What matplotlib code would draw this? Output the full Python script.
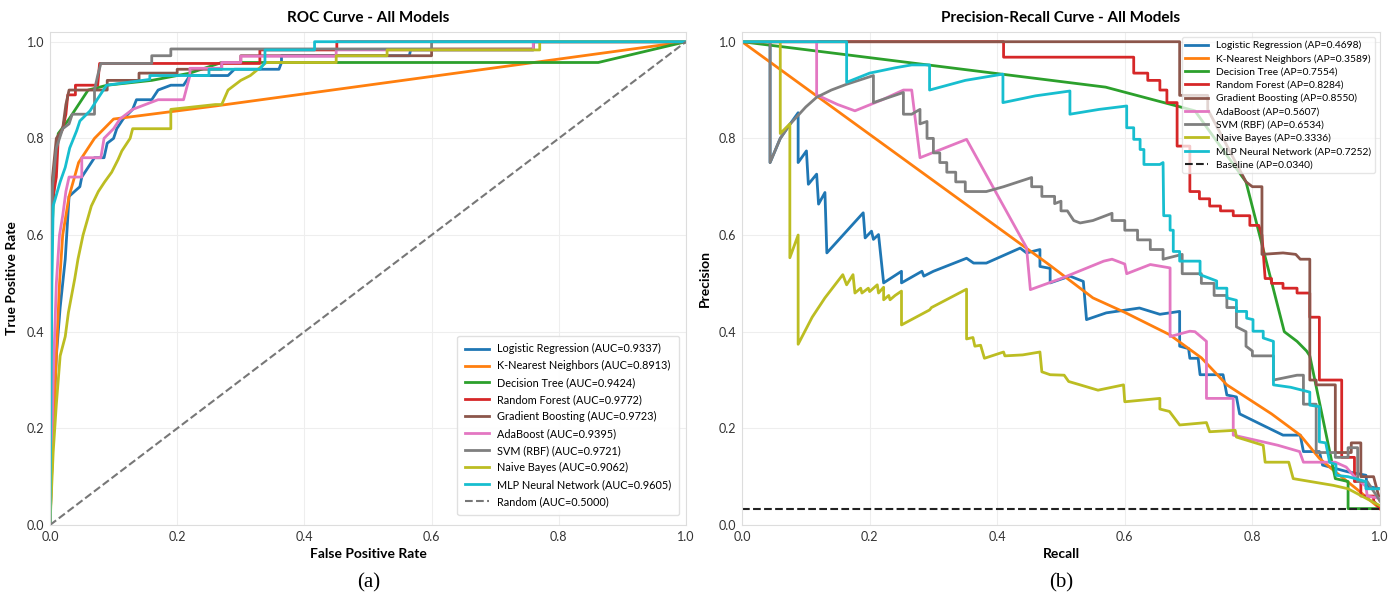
import matplotlib
matplotlib.use("Agg")
import matplotlib.pyplot as plt

plt.rcParams['font.family'] = ['Lato', 'DejaVu Sans']

# ---- ROC curves (fpr, tpr) ----
models = ["Logistic Regression", "K-Nearest Neighbors", "Decision Tree", "Random Forest",
          "Gradient Boosting", "AdaBoost", "SVM (RBF)", "Naive Bayes", "MLP Neural Network"]
auc_vals = [0.9337, 0.8913, 0.9424, 0.9772, 0.9723, 0.9395, 0.9721, 0.9062, 0.9605]
ap_vals = [0.4698, 0.3589, 0.7554, 0.8284, 0.8550, 0.5607, 0.6534, 0.3336, 0.7252]
baseline_ap = 0.0340

lr_roc = [(0, 0), (0.005, 0.2), (0.01, 0.35), (0.016, 0.45), (0.024, 0.55), (0.03, 0.68), (0.047, 0.7),
          (0.05, 0.72), (0.06, 0.74), (0.07, 0.76), (0.085, 0.76), (0.09, 0.79), (0.1, 0.8), (0.105, 0.82),
          (0.115, 0.84), (0.13, 0.86), (0.136, 0.88), (0.16, 0.88), (0.17, 0.9), (0.19, 0.91), (0.21, 0.91),
          (0.22, 0.93), (0.28, 0.93), (0.29, 0.943), (0.36, 0.943), (0.364, 0.957), (0.364, 0.971),
          (0.565, 0.971), (0.567, 0.983), (0.76, 0.983), (0.76, 1.0), (1, 1)]
knn_roc = [(0, 0), (0.005, 0.2), (0.01, 0.35), (0.015, 0.5), (0.02, 0.6), (0.03, 0.68), (0.045, 0.75),
           (0.07, 0.8), (0.1, 0.84), (0.26, 0.867), (1, 1)]
dt_roc = [(0, 0), (0.003, 0.6), (0.008, 0.75), (0.013, 0.81), (0.03, 0.84), (0.05, 0.88), (0.06, 0.9),
          (0.09, 0.91), (0.16, 0.92), (0.22, 0.935), (0.27, 0.957), (0.862, 0.957), (1, 1)]
rf_roc = [(0, 0), (0, 0.55), (0.005, 0.68), (0.01, 0.72), (0.013, 0.8), (0.02, 0.82), (0.025, 0.85),
          (0.028, 0.89), (0.04, 0.89), (0.04, 0.91), (0.075, 0.91), (0.078, 0.955), (0.33, 0.955),
          (0.33, 0.983), (0.451, 0.983), (0.451, 1.0), (1, 1)]
gb_roc = [(0, 0), (0, 0.6), (0.004, 0.72), (0.01, 0.8), (0.02, 0.82), (0.025, 0.87), (0.03, 0.9),
          (0.09, 0.9), (0.09, 0.92), (0.14, 0.92), (0.14, 0.935), (0.2, 0.935), (0.2, 0.943), (0.27, 0.943),
          (0.27, 0.957), (0.3, 0.957), (0.3, 0.971), (0.6, 0.971), (0.6, 0.985), (0.76, 0.985), (0.76, 1.0),
          (1, 1)]
ada_roc = [(0, 0), (0.005, 0.3), (0.01, 0.5), (0.015, 0.6), (0.02, 0.64), (0.025, 0.69), (0.03, 0.72),
           (0.05, 0.72), (0.05, 0.76), (0.08, 0.76), (0.085, 0.8), (0.1, 0.82), (0.11, 0.84), (0.13, 0.86),
           (0.17, 0.88), (0.21, 0.88), (0.22, 0.93), (0.22, 0.945), (0.27, 0.945), (0.27, 0.957), (0.3, 0.957),
           (0.3, 0.97), (0.45, 0.97), (0.45, 0.983), (0.76, 0.983), (0.76, 1), (1, 1)]
svm_roc = [(0, 0), (0, 0.45), (0.004, 0.7), (0.01, 0.78), (0.015, 0.8), (0.02, 0.82), (0.03, 0.83),
           (0.035, 0.85), (0.07, 0.85), (0.07, 0.9), (0.075, 0.93), (0.08, 0.955), (0.16, 0.955),
           (0.16, 0.971), (0.19, 0.971), (0.19, 0.985), (0.6, 0.985), (0.6, 1), (1, 1)]
nb_roc = [(0, 0), (0.005, 0.15), (0.01, 0.25), (0.016, 0.35), (0.024, 0.39), (0.029, 0.44), (0.039, 0.51),
          (0.044, 0.55), (0.052, 0.6), (0.065, 0.66), (0.076, 0.69), (0.086, 0.71), (0.097, 0.73),
          (0.107, 0.756), (0.113, 0.774), (0.126, 0.8), (0.13, 0.82), (0.19, 0.82), (0.19, 0.86),
          (0.26, 0.87), (0.27, 0.87), (0.28, 0.9), (0.3, 0.92), (0.315, 0.93), (0.34, 0.957), (0.45, 0.957),
          (0.45, 0.971), (0.53, 0.971), (0.53, 0.983), (0.77, 0.983), (0.77, 1), (1, 1)]
mlp_roc = [(0, 0), (0.003, 0.5), (0.005, 0.66), (0.016, 0.71), (0.024, 0.74), (0.031, 0.78),
           (0.042, 0.816), (0.047, 0.836), (0.063, 0.857), (0.074, 0.88), (0.089, 0.91), (0.157, 0.922),
           (0.157, 0.93), (0.25, 0.93), (0.25, 0.943), (0.33, 0.943), (0.338, 0.957), (0.338, 0.983),
           (0.416, 0.983), (0.416, 1), (1, 1)]

# ---- Precision-Recall curves (recall, precision) ----
lr_pr = [(0, 1), (0.044, 1), (0.044, 0.75), (0.06, 0.8), (0.075, 0.829), (0.088, 0.853), (0.088, 0.75),
         (0.101, 0.774), (0.104, 0.705), (0.117, 0.726), (0.12, 0.664), (0.13, 0.688), (0.133, 0.563),
         (0.19, 0.646), (0.193, 0.594), (0.203, 0.608), (0.206, 0.591), (0.214, 0.601), (0.222, 0.501),
         (0.25, 0.525), (0.25, 0.501), (0.282, 0.525), (0.285, 0.515), (0.3, 0.525), (0.352, 0.552),
         (0.363, 0.542), (0.383, 0.542), (0.436, 0.573), (0.446, 0.563), (0.467, 0.57), (0.467, 0.535),
         (0.483, 0.531), (0.483, 0.501), (0.514, 0.515), (0.535, 0.504), (0.54, 0.425), (0.571, 0.439),
         (0.623, 0.449), (0.655, 0.436), (0.686, 0.442), (0.686, 0.37), (0.7, 0.365), (0.702, 0.345),
         (0.715, 0.345), (0.718, 0.311), (0.754, 0.311), (0.76, 0.269), (0.775, 0.265), (0.78, 0.23),
         (0.817, 0.206), (0.848, 0.186), (0.875, 0.186), (0.88, 0.152), (0.905, 0.152), (0.91, 0.124),
         (0.95, 0.11), (0.978, 0.103), (0.98, 0.08), (1.0, 0.075)]
knn_pr = [(0, 1), (0.48, 0.54), (0.55, 0.47), (0.6, 0.44), (0.67, 0.394), (0.72, 0.346), (0.76, 0.29),
          (0.83, 0.23), (0.875, 0.186), (0.905, 0.138), (0.93, 0.11), (0.963, 0.075), (1.0, 0.034)]
dt_pr = [(0, 1), (0.57, 0.906), (0.71, 0.857), (0.73, 0.82), (0.79, 0.71), (0.85, 0.40), (0.86, 0.39),
         (0.87, 0.38), (0.885, 0.36), (0.89, 0.35), (0.93, 0.096), (0.95, 0.09), (0.95, 0.034),
         (1.0, 0.034)]
rf_pr = [(0, 1), (0.41, 1), (0.41, 0.968), (0.614, 0.968), (0.614, 0.935), (0.636, 0.935), (0.636, 0.92),
         (0.655, 0.92), (0.655, 0.9), (0.666, 0.9), (0.666, 0.874), (0.682, 0.874), (0.682, 0.784),
         (0.702, 0.784), (0.702, 0.69), (0.717, 0.69), (0.717, 0.675), (0.733, 0.675), (0.733, 0.66),
         (0.75, 0.66), (0.75, 0.65), (0.77, 0.65), (0.77, 0.64), (0.796, 0.64), (0.796, 0.62), (0.81, 0.62),
         (0.815, 0.6), (0.82, 0.51), (0.83, 0.51), (0.83, 0.5), (0.848, 0.5), (0.848, 0.49), (0.87, 0.49),
         (0.87, 0.48), (0.89, 0.48), (0.89, 0.43), (0.905, 0.43), (0.905, 0.3), (0.94, 0.3), (0.94, 0.14),
         (0.96, 0.14), (0.96, 0.09), (0.97, 0.09), (0.97, 0.06), (0.99, 0.06), (0.99, 0.05), (1.0, 0.034)]
gb_pr = [(0, 1), (0.686, 1), (0.686, 0.889), (0.73, 0.889), (0.73, 0.86), (0.79, 0.71), (0.8, 0.70),
         (0.815, 0.70), (0.815, 0.56), (0.848, 0.563), (0.868, 0.56), (0.875, 0.55), (0.89, 0.55),
         (0.89, 0.30), (0.9, 0.30), (0.9, 0.29), (0.93, 0.29), (0.93, 0.15), (0.955, 0.15), (0.955, 0.17),
         (0.97, 0.17), (0.97, 0.1), (0.99, 0.1), (1.0, 0.05)]
ada_pr = [(0, 1), (0.117, 1), (0.117, 0.89), (0.15, 0.87), (0.177, 0.857), (0.22, 0.88), (0.253, 0.9),
          (0.266, 0.9), (0.279, 0.76), (0.352, 0.798), (0.446, 0.574), (0.452, 0.487), (0.5, 0.51),
          (0.567, 0.546), (0.58, 0.55), (0.6, 0.54), (0.603, 0.52), (0.64, 0.539), (0.671, 0.532),
          (0.671, 0.39), (0.702, 0.401), (0.71, 0.4), (0.728, 0.38), (0.728, 0.262), (0.77, 0.262),
          (0.77, 0.186), (0.817, 0.172), (0.84, 0.165), (0.874, 0.152), (0.88, 0.13), (0.93, 0.13),
          (0.947, 0.12), (0.96, 0.1), (0.978, 0.08), (0.98, 0.06), (1.0, 0.055)]
svm_pr = [(0, 1), (0.044, 1), (0.044, 0.75), (0.06, 0.8), (0.075, 0.829), (0.1, 0.865), (0.117, 0.885),
          (0.14, 0.9), (0.164, 0.912), (0.206, 0.93), (0.206, 0.874), (0.253, 0.895), (0.253, 0.85),
          (0.266, 0.85), (0.279, 0.86), (0.279, 0.83), (0.29, 0.835), (0.29, 0.8), (0.3, 0.8), (0.3, 0.77),
          (0.31, 0.77), (0.31, 0.75), (0.321, 0.75), (0.321, 0.73), (0.335, 0.73), (0.335, 0.71),
          (0.35, 0.71), (0.35, 0.69), (0.383, 0.69), (0.41, 0.70), (0.454, 0.719), (0.454, 0.70),
          (0.47, 0.70), (0.47, 0.68), (0.49, 0.68), (0.49, 0.665), (0.5, 0.67), (0.5, 0.65), (0.51, 0.65),
          (0.52, 0.63), (0.53, 0.625), (0.55, 0.63), (0.58, 0.645), (0.58, 0.63), (0.6, 0.63), (0.6, 0.61),
          (0.62, 0.61), (0.62, 0.59), (0.64, 0.59), (0.64, 0.57), (0.66, 0.57), (0.66, 0.55), (0.69, 0.56),
          (0.69, 0.52), (0.72, 0.52), (0.72, 0.5), (0.74, 0.5), (0.74, 0.475), (0.76, 0.475), (0.76, 0.45),
          (0.775, 0.45), (0.775, 0.41), (0.79, 0.4), (0.79, 0.37), (0.8, 0.36), (0.8, 0.35), (0.833, 0.35),
          (0.833, 0.3), (0.87, 0.31), (0.88, 0.31), (0.88, 0.25), (0.9, 0.25), (0.9, 0.15), (0.93, 0.15),
          (0.93, 0.14), (0.95, 0.14), (0.95, 0.16), (0.965, 0.16), (0.965, 0.09), (0.98, 0.09), (1.0, 0.05)]
nb_pr = [(0, 1), (0.06, 1), (0.06, 0.81), (0.075, 0.83), (0.075, 0.553), (0.088, 0.6), (0.088, 0.374),
         (0.11, 0.43), (0.13, 0.47), (0.158, 0.518), (0.164, 0.497), (0.174, 0.518), (0.177, 0.48),
         (0.186, 0.49), (0.188, 0.48), (0.198, 0.49), (0.2, 0.483), (0.212, 0.497), (0.214, 0.48),
         (0.222, 0.492), (0.222, 0.466), (0.23, 0.475), (0.232, 0.466), (0.24, 0.475), (0.25, 0.484),
         (0.25, 0.414), (0.294, 0.445), (0.297, 0.45), (0.352, 0.488), (0.352, 0.385), (0.362, 0.388),
         (0.365, 0.37), (0.374, 0.372), (0.38, 0.345), (0.41, 0.358), (0.412, 0.35), (0.44, 0.352),
         (0.467, 0.358), (0.47, 0.317), (0.483, 0.311), (0.505, 0.31), (0.512, 0.297), (0.53, 0.29),
         (0.558, 0.279), (0.598, 0.29), (0.6, 0.255), (0.655, 0.262), (0.655, 0.24), (0.67, 0.235),
         (0.686, 0.207), (0.728, 0.212), (0.733, 0.193), (0.773, 0.196), (0.775, 0.182), (0.817, 0.165),
         (0.82, 0.13), (0.857, 0.13), (0.864, 0.096), (0.927, 0.082), (0.95, 0.075), (1.0, 0.04)]
mlp_pr = [(0, 1), (0.164, 1), (0.164, 0.916), (0.2, 0.935), (0.24, 0.946), (0.266, 0.952), (0.294, 0.952),
          (0.294, 0.9), (0.35, 0.92), (0.409, 0.933), (0.409, 0.874), (0.46, 0.888), (0.514, 0.898),
          (0.514, 0.85), (0.56, 0.86), (0.603, 0.867), (0.603, 0.822), (0.614, 0.822), (0.614, 0.798),
          (0.624, 0.798), (0.624, 0.777), (0.63, 0.777), (0.63, 0.746), (0.655, 0.746), (0.66, 0.75),
          (0.661, 0.64), (0.671, 0.64), (0.671, 0.61), (0.676, 0.61), (0.676, 0.566), (0.686, 0.566),
          (0.686, 0.546), (0.718, 0.546), (0.718, 0.518), (0.744, 0.505), (0.744, 0.49), (0.76, 0.49),
          (0.76, 0.47), (0.775, 0.465), (0.775, 0.442), (0.791, 0.442), (0.791, 0.428), (0.801, 0.425),
          (0.801, 0.401), (0.817, 0.401), (0.817, 0.387), (0.833, 0.38), (0.833, 0.29), (0.86, 0.285),
          (0.89, 0.275), (0.89, 0.248), (0.905, 0.245), (0.905, 0.172), (0.915, 0.17), (0.921, 0.13),
          (0.931, 0.125), (0.931, 0.103), (0.95, 0.1), (0.978, 0.09), (0.978, 0.075), (1.0, 0.075)]

roc_curves = [lr_roc, knn_roc, dt_roc, rf_roc, gb_roc, ada_roc, svm_roc, nb_roc, mlp_roc]
pr_curves = [lr_pr, knn_pr, dt_pr, rf_pr, gb_pr, ada_pr, svm_pr, nb_pr, mlp_pr]
colors = ['#1f77b4', '#ff7f0e', '#2ca02c', '#d62728', '#8c564b', '#e377c2', '#7f7f7f', '#bcbd22', '#17becf']

fig = plt.figure(figsize=(14, 5.99), dpi=100)
ax1 = fig.add_axes([0.0357, 0.1235, 0.4543, 0.823])
ax2 = fig.add_axes([0.530, 0.1235, 0.4557, 0.823])


def style(ax):
    ax.set_xlim(0, 1)
    ax.set_ylim(0, 1.02)
    ax.set_xticks([0, 0.2, 0.4, 0.6, 0.8, 1.0])
    ax.set_yticks([0, 0.2, 0.4, 0.6, 0.8, 1.0])
    ax.grid(True, color='#eeeeee', linewidth=0.8)
    ax.set_axisbelow(True)
    for s in ax.spines.values():
        s.set_color('#dddddd')
        s.set_linewidth(0.8)
    ax.tick_params(length=0, labelsize=9, colors='#333333', pad=4)


# ROC
for name, auc, pts, c in zip(models, auc_vals, roc_curves, colors):
    xs, ys = zip(*pts)
    ax1.plot(xs, ys, color=c, lw=2, label=f"{name} (AUC={auc:.4f})")
ax1.plot([0, 1], [0, 1], color='#777777', lw=1.5, ls='--', label="Random (AUC=0.5000)")
style(ax1)
ax1.set_title("ROC Curve - All Models", fontsize=11, fontweight='bold', pad=7)
ax1.set_xlabel("False Positive Rate", fontsize=10, fontweight='bold', labelpad=4)
ax1.set_ylabel("True Positive Rate", fontsize=10, fontweight='bold', labelpad=6)
ax1.legend(loc='lower right', fontsize=7.8, frameon=True, framealpha=0.9,
           edgecolor='#dddddd', borderpad=0.7, handlelength=2.2, labelspacing=0.55,
           bbox_to_anchor=(0.998, 0.01))

# PR
for name, ap, pts, c in zip(models, ap_vals, pr_curves, colors):
    xs, ys = zip(*pts)
    ax2.plot(xs, ys, color=c, lw=2, label=f"{name} (AP={ap:.4f})")
ax2.plot([0, 1], [baseline_ap, baseline_ap], color='#222222', lw=1.5, ls='--',
         label=f"Baseline (AP={baseline_ap:.4f})")
style(ax2)
ax2.set_title("Precision-Recall Curve - All Models", fontsize=11, fontweight='bold', pad=7)
ax2.set_xlabel("Recall", fontsize=10, fontweight='bold', labelpad=4)
ax2.set_ylabel("Precision", fontsize=10, fontweight='bold', labelpad=6)
ax2.legend(loc='upper right', fontsize=7.4, frameon=True, framealpha=0.75,
           edgecolor='#dddddd', borderpad=0.35, handlelength=2.2, labelspacing=0.38,
           bbox_to_anchor=(1.0, 1.0))

fig.text(0.263, 0.02, "(a)", fontsize=15, family='Liberation Serif', ha='center')
fig.text(0.758, 0.02, "(b)", fontsize=15, family='Liberation Serif', ha='center')

fig.savefig("out.png", dpi=100, facecolor='white')
